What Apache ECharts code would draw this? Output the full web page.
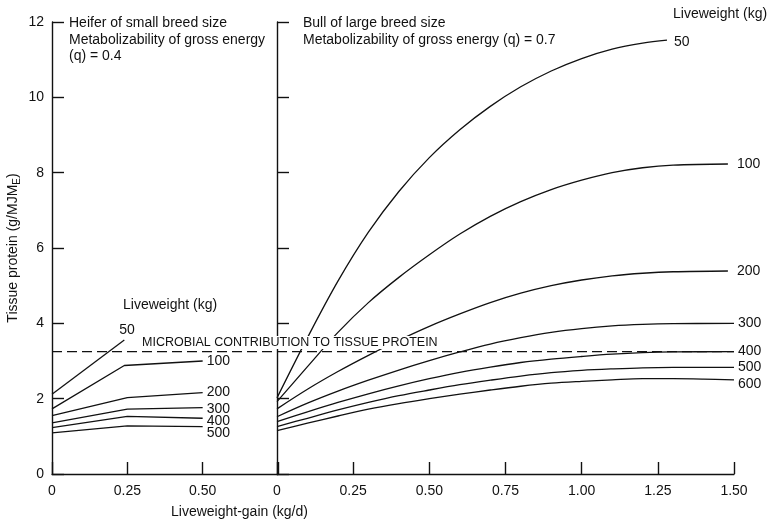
<!DOCTYPE html>
<html>
<head>
<meta charset="utf-8">
<script src="https://cdn.jsdelivr.net/npm/echarts@6/dist/echarts.min.js"></script>
<style>
html,body{margin:0;padding:0;background:#fff;}
#c{width:771px;height:526px;}
</style>
</head>
<body>
<div id="c"></div>
<script>
// ---- Data ----
// Left panel: heifer of small breed size (q = 0.4), [gain kg/d, tissue protein g/MJ ME]
const heiferNames = ['50', '100', '200', '300', '400', '500'];
const heifer50  = [[0, 2.12], [0.24, 3.56]];
const heifer100 = [[0, 1.73], [0.24, 2.88], [0.50, 3.00]];
const heifer200 = [[0, 1.55], [0.25, 2.03], [0.50, 2.16]];
const heifer300 = [[0, 1.36], [0.25, 1.72], [0.50, 1.76]];
const heifer400 = [[0, 1.23], [0.25, 1.53], [0.50, 1.48]];
const heifer500 = [[0, 1.09], [0.25, 1.28], [0.50, 1.26]];

// Right panel: bull of large breed size (q = 0.7)
const bullNames = ['50', '100', '200', '300', '400', '500', '600'];
const bull50  = [[0,2.02],[0.1,3.62],[0.2,5.12],[0.3,6.42],[0.4,7.5],[0.5,8.4],[0.6,9.14],[0.7,9.76],[0.8,10.28],[0.9,10.7],[1.0,11.03],[1.1,11.28],[1.2,11.44],[1.28,11.52]];
const bull100 = [[0,1.92],[0.1,2.85],[0.2,3.76],[0.3,4.55],[0.4,5.22],[0.5,5.82],[0.6,6.37],[0.7,6.84],[0.8,7.23],[0.9,7.55],[1.0,7.8],[1.1,8.0],[1.2,8.13],[1.3,8.2],[1.48,8.23]];
const bull200 = [[0,1.73],[0.1,2.25],[0.2,2.72],[0.3,3.15],[0.4,3.55],[0.5,3.92],[0.6,4.25],[0.7,4.55],[0.8,4.8],[0.9,5.0],[1.0,5.15],[1.1,5.26],[1.2,5.33],[1.3,5.37],[1.48,5.39]];
const bull300 = [[0,1.52],[0.1,1.88],[0.2,2.2],[0.3,2.49],[0.4,2.76],[0.5,3.01],[0.6,3.24],[0.7,3.45],[0.8,3.62],[0.9,3.76],[1.0,3.86],[1.1,3.93],[1.2,3.97],[1.3,3.99],[1.5,4.0]];
const bull400 = [[0,1.39],[0.1,1.65],[0.2,1.9],[0.3,2.13],[0.4,2.34],[0.5,2.53],[0.6,2.7],[0.7,2.84],[0.8,2.96],[0.9,3.05],[1.0,3.12],[1.1,3.18],[1.2,3.22],[1.3,3.24],[1.5,3.25]];
const bull500 = [[0,1.26],[0.1,1.48],[0.2,1.7],[0.3,1.9],[0.4,2.08],[0.5,2.23],[0.6,2.37],[0.7,2.49],[0.8,2.6],[0.9,2.69],[1.0,2.75],[1.1,2.79],[1.2,2.82],[1.3,2.83],[1.5,2.83]];
const bull600 = [[0,1.15],[0.1,1.35],[0.2,1.54],[0.3,1.72],[0.4,1.87],[0.5,2.0],[0.6,2.12],[0.7,2.23],[0.8,2.33],[0.9,2.41],[1.0,2.46],[1.1,2.5],[1.2,2.53],[1.3,2.53],[1.4,2.52],[1.5,2.5]];

const microbial = 3.25;
const xTickLabelsLeft = ['0', '0.25', '0.50'];
const xTickLabelsRight = ['0', '0.25', '0.50', '0.75', '1.00', '1.25', '1.50'];

// ---- Styles ----
const FONT = '"Liberation Sans", Arial, sans-serif';
const INK = '#111';
const LW = 1.3;
const FS = 14;

const heiferData = [heifer50, heifer100, heifer200, heifer300, heifer400, heifer500];
const heiferOffsets = [[-9, -10], [0, 0], [0, 0], [0, 1], [0, 3], [0, 7]];
const bullData = [bull50, bull100, bull200, bull300, bull400, bull500, bull600];
const bullOffsets = [[3, 2], [5, 0], [5, 0], [0, 0], [0, 0], [0, 0], [0, 4]];

function lineSeries(data, name, xi, smooth, off) {
  return {
    type: 'line', name: name, data: data, xAxisIndex: xi, yAxisIndex: xi,
    smooth: smooth, symbol: 'none', silent: true,
    lineStyle: { color: INK, width: LW },
    endLabel: { show: true, formatter: name, color: INK, fontFamily: FONT, fontSize: FS, distance: 4, offset: off }
  };
}

const series = [];
heiferData.forEach((d, i) => series.push(lineSeries(d, heiferNames[i], 0, false, heiferOffsets[i])));
bullData.forEach((d, i) => series.push(lineSeries(d, bullNames[i], 1, 0.35, bullOffsets[i])));

function dashSeries(xi, xmax) {
  return {
    type: 'line', data: [[0, microbial], [xmax, microbial]], xAxisIndex: xi, yAxisIndex: xi,
    symbol: 'none', silent: true,
    lineStyle: { color: INK, width: LW, type: [10, 5] }
  };
}
series.push(dashSeries(0, 0.75));
series.push(dashSeries(1, 1.5));

const axisLine = { show: true, onZero: false, lineStyle: { color: INK, width: 1.4 } };
const axisTick = { show: true, inside: true, length: 12, lineStyle: { color: INK, width: 1.4 } };
const labelStyle = { color: INK, fontFamily: FONT, fontSize: FS };

const option = {
  animation: false,
  backgroundColor: '#fff',
  grid: [
    { left: 52, top: 22, width: 226, bottom: 52 },
    { left: 277, top: 22, width: 457, bottom: 52 }
  ],
  xAxis: [
    { type: 'value', gridIndex: 0, min: 0, max: 0.75, interval: 0.25,
      axisLine, axisTick, splitLine: { show: false },
      axisLabel: Object.assign({ margin: 10, formatter: v => { const i = Math.round(v / 0.25); return i < xTickLabelsLeft.length ? xTickLabelsLeft[i] : ''; } }, labelStyle) },
    { type: 'value', gridIndex: 1, min: 0, max: 1.5, interval: 0.25,
      axisLine, axisTick, splitLine: { show: false },
      axisLabel: Object.assign({ margin: 10, formatter: v => xTickLabelsRight[Math.round(v / 0.25)] }, labelStyle) }
  ],
  yAxis: [
    { type: 'value', gridIndex: 0, min: 0, max: 12, interval: 2,
      axisLine, axisTick, splitLine: { show: false },
      axisLabel: Object.assign({ margin: 8 }, labelStyle),
      name: 'Tissue protein (g/MJM{e|E})', nameLocation: 'middle', nameGap: 30, nameRotate: 90,
      nameTextStyle: { color: INK, fontFamily: FONT, fontSize: FS,
        rich: { e: { fontSize: 10, fontFamily: FONT, color: INK, padding: [7, 0, 0, 0] } } } },
    { type: 'value', gridIndex: 1, min: 0, max: 12, interval: 2,
      axisLine, axisTick, splitLine: { show: false },
      axisLabel: { show: false } }
  ],
  series: series,
  graphic: [
    { type: 'text', left: 69, top: 15, z: 50,
      style: { text: 'Heifer of small breed size\nMetabolizability of gross energy\n(q) = 0.4', fill: INK, font: FS + 'px ' + FONT, lineHeight: 16.5 } },
    { type: 'text', left: 303, top: 15, z: 50,
      style: { text: 'Bull of large breed size\nMetabolizability of gross energy (q) = 0.7', fill: INK, font: FS + 'px ' + FONT, lineHeight: 16.5 } },
    { type: 'text', left: 673, top: 7, z: 50,
      style: { text: 'Liveweight (kg)', fill: INK, font: FS + 'px ' + FONT } },
    { type: 'text', left: 123, top: 298, z: 50,
      style: { text: 'Liveweight (kg)', fill: INK, font: FS + 'px ' + FONT } },
    { type: 'text', left: 140, top: 336, z: 100,
      style: { text: 'MICROBIAL CONTRIBUTION TO TISSUE PROTEIN', fill: INK, font: '12.5px ' + FONT,
        backgroundColor: '#fff', padding: [0, 2, 0, 2] } },
    { type: 'text', left: 171, top: 505, z: 50,
      style: { text: 'Liveweight-gain (kg/d)', fill: INK, font: FS + 'px ' + FONT } }
  ]
};

const chart = echarts.init(document.getElementById('c'), null, { renderer: 'canvas' });
chart.setOption(option);
</script>
</body>
</html>
